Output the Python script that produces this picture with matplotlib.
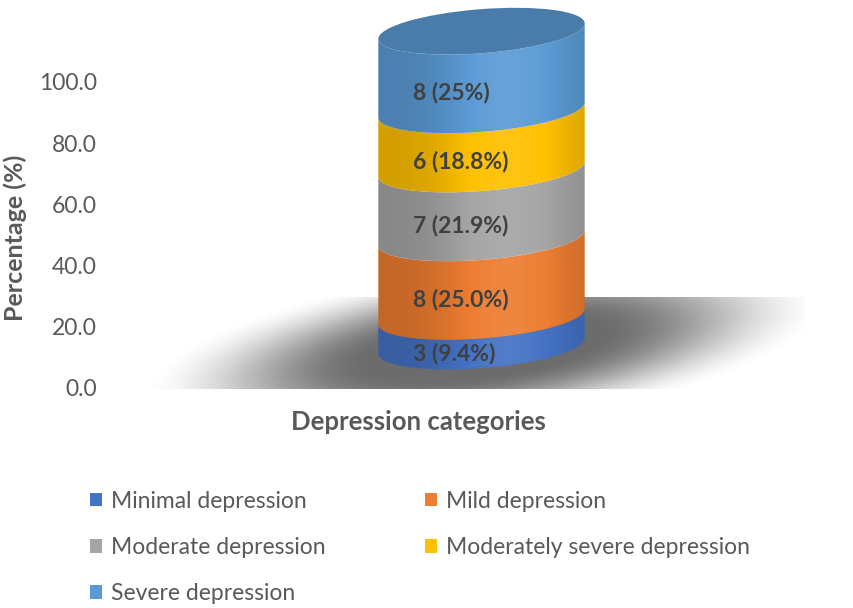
import numpy as np
import matplotlib.pyplot as plt
from matplotlib.patches import Polygon, Ellipse, Patch
from matplotlib.colors import to_rgb

plt.rcParams['font.family'] = ['Lato', 'DejaVu Sans']

# data
categories = ['Minimal depression', 'Mild depression', 'Moderate depression',
              'Moderately severe depression', 'Severe depression']
counts = [3, 8, 7, 6, 8]
percentages = [9.4, 25.0, 21.9, 18.8, 25.0]
labels = ['3 (9.4%)', '8 (25.0%)', '7 (21.9%)', '6 (18.8%)', '8 (25%)']
colors = ['#4472C4', '#ED7D31', '#A5A5A5', '#FFC000', '#5B9BD5']
y_ticks = [0, 20, 40, 60, 80, 100]

W, H = 854, 608
TXT = '#595959'

fig = plt.figure(figsize=(W / 100, H / 100), dpi=100)


def px_rect(x0, y0, x1, y1):
    # pixel box (top-left origin) -> figure fraction
    return [x0 / W, 1 - y1 / H, (x1 - x0) / W, (y1 - y0) / H]


# background layer in pixel coordinates, used only for the floor shadow
bg = fig.add_axes([0, 0, 1, 1])
bg.set_xlim(0, W)
bg.set_ylim(H, 0)
bg.axis('off')

sx0, sx1, sy0, sy1 = 150, 805, 297, 389
gx, gy = np.meshgrid(np.linspace(sx0, sx1, 400), np.linspace(sy0, sy1, 120))
ang = np.deg2rad(-8)
u = (gx - 485) * np.cos(ang) + (gy - 348) * np.sin(ang)
v = -(gx - 485) * np.sin(ang) + (gy - 348) * np.cos(ang)
r = np.sqrt((u / 320) ** 2 + (v / 78) ** 2)
t = np.clip((r - 0.35) / 0.75, 0, 1)
alpha = 0.58 * (1 - t * t * (3 - 2 * t))
img = np.zeros(gx.shape + (4,))
img[..., 3] = alpha
bg.imshow(img, extent=(sx0, sx1, sy1, sy0), aspect='auto', interpolation='bilinear')

# main axes: only the value scale and the labels
ax = fig.add_axes(px_rect(105, 82, 800, 388))
ax.patch.set_alpha(0)
ax.set_ylim(0, 100)
ax.set_xlim(0, 1)
ax.set_yticks(y_ticks)
ax.set_yticklabels([f'{t:.1f}' for t in y_ticks], color=TXT, fontsize=16.5)
ax.tick_params(axis='y', length=0, pad=6)
ax.set_xticks([])
for s in ax.spines.values():
    s.set_visible(False)
ax.set_ylabel('Percentage (%)', fontsize=18, fontweight='bold', color=TXT)
ax.yaxis.set_label_coords((15 - 105) / 695, (388 - 238) / 306)
ax.yaxis.label.set_va('center')
ax.set_xlabel('Depression categories', fontsize=18.5, fontweight='bold', color=TXT)
ax.xaxis.set_label_coords((418 - 105) / 695, (388 - 422) / 306)
ax.xaxis.label.set_va('center')

# cylinder axes, units in pixels; K pixels per percent
K = 3.145
A, B = 103.5, 22.0
theta = np.deg2rad(4.5)
cyl = fig.add_axes(px_rect(368, 0, 595, 380))
cyl.set_xlim(-113.5, 113.5)
cyl.set_ylim(-34, 346)
cyl.axis('off')


def ellipse_pts(yc, t):
    x = A * np.cos(t) * np.cos(theta) - B * np.sin(t) * np.sin(theta)
    y = yc + A * np.cos(t) * np.sin(theta) + B * np.sin(t) * np.cos(theta)
    return x, y


t_r = np.arctan2(-B * np.sin(theta), A * np.cos(theta))
t_front = np.linspace(t_r - np.pi, t_r, 120)


def shade_img(color):
    base = np.array(to_rgb(color))
    xs = np.linspace(-1, 1, 300)
    f = 0.82 + 0.26 * np.exp(-((xs - 0.25) / 0.6) ** 2)
    rows = []
    for k in f:
        if k <= 1:
            rows.append(base * k)
        else:
            rows.append(base + (1 - base) * (k - 1) * 0.9)
    return np.array(rows)[None, :, :]


cum = np.concatenate([[0], np.cumsum(percentages)])
for i, pct in enumerate(percentages):
    y0, y1 = cum[i] * K, cum[i + 1] * K
    lx, ly = ellipse_pts(y0, t_front)
    ux, uy = ellipse_pts(y1, t_front[::-1])
    poly = Polygon(np.column_stack([np.r_[lx, ux], np.r_[ly, uy]]), closed=True,
                   facecolor='none', edgecolor='none')
    cyl.add_patch(poly)
    im = cyl.imshow(shade_img(colors[i]), extent=(-A - 2, A + 2, y0 - B - 4, y1 + B + 4),
                    aspect='auto', interpolation='bilinear', zorder=2)
    im.set_clip_path(poly)
    cyl.text(-68.5, (cum[i] + pct / 2) * K - 22, labels[i], fontsize=16.5,
             fontweight='bold', color='#404040', ha='left', va='center', zorder=5)

# top cap
top_c = np.array(to_rgb(colors[-1])) * 0.8
cyl.add_patch(Ellipse((0, cum[-1] * K), 2 * A, 2 * B, angle=np.rad2deg(theta),
                      facecolor=top_c, edgecolor='none', zorder=3))

# legend: column-first ordering to get the row layout of the reference
order = [0, 2, 4, 1, 3]
handles = [Patch(facecolor=colors[i], edgecolor='none') for i in order]
fig.legend(handles, [categories[i] for i in order], ncol=2, loc='upper left',
           bbox_to_anchor=(69 / W, 1 - 470 / H), frameon=False, fontsize=16.5,
           labelcolor=TXT, handlelength=0.55, handleheight=0.55, handletextpad=0.4,
           columnspacing=4.3, labelspacing=1.1)

fig.savefig('out.png', dpi=100)
